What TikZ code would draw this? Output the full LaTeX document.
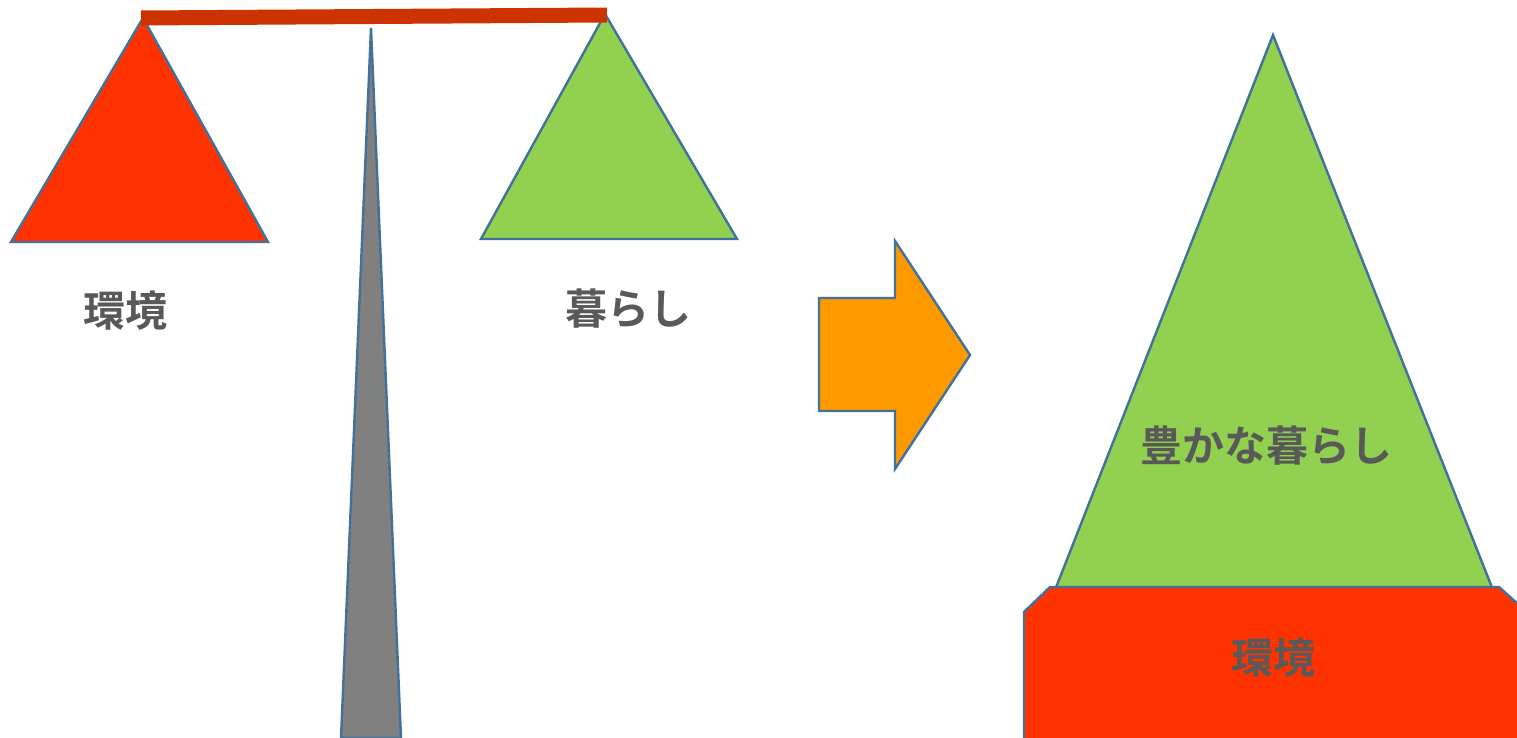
\documentclass[tikz,border=0pt]{standalone}
\usepackage{fontspec}
\newfontfamily\jp{Noto Sans CJK JP Bold}
\definecolor{cred}{HTML}{FF3300}
\definecolor{cgreen}{HTML}{92D050}
\definecolor{corange}{HTML}{FF9900}
\definecolor{cgray}{HTML}{808080}
\definecolor{cedge}{HTML}{41719C}
\definecolor{cbar}{HTML}{CC3300}
\definecolor{ctext}{HTML}{595959}
\tikzset{
  shapeline/.style={draw=cedge, line width=2.4pt, line join=miter},
  label/.style={text=ctext, font=\jp\fontsize{42}{44}\selectfont, inner sep=0pt}
}
\begin{document}
\begin{tikzpicture}[x=1pt,y=-1pt]
\useasboundingbox (0,0) rectangle (1517,738);
% left scale
\draw[shapeline, fill=cgray] (371,28) -- (401,738) -- (341,738) -- cycle;
\draw[shapeline, fill=cred] (143,18) -- (268,242) -- (11,242) -- cycle;
\draw[shapeline, fill=cgreen] (605,14) -- (737,239) -- (481,239) -- cycle;
\coordinate (barL) at (141,18);
\coordinate (barR) at (607,15);
\draw[cbar, line width=15pt] (barL) -- (barR);
\node[label] (env1) at (125,311) {環境};
\node[label] (life1) at (628,309) {暮らし};
% arrow
\draw[shapeline, fill=corange] (819,298) -- (895,298) -- (895,241) -- (970,355) -- (895,469) -- (895,411) -- (819,411) -- cycle;
% right
\draw[shapeline, fill=cgreen] (1273,35) -- (1493,590) -- (1055,590) -- cycle;
\draw[shapeline, fill=cred] (1024,740) -- (1024,612) -- (1050,587) -- (1499,587) -- (1519,605) -- (1519,740);
\node[label] (rich) at (1266,446) {豊かな暮らし};
\node[label] (env2) at (1273,658) {環境};
\end{tikzpicture}
\end{document}
